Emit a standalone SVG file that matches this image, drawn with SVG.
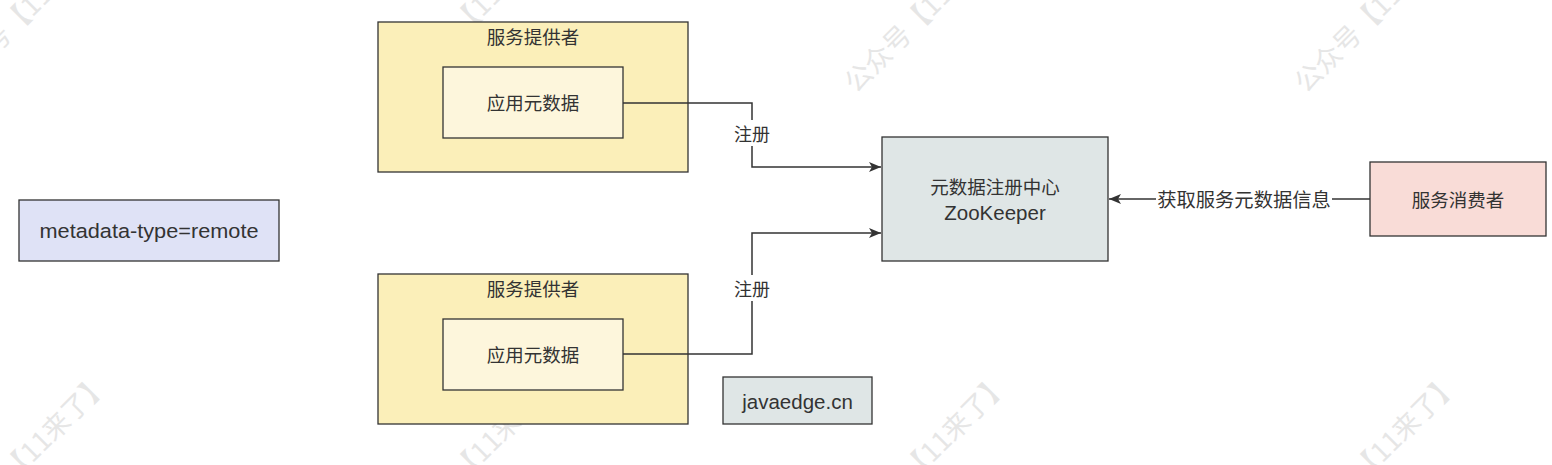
<svg xmlns="http://www.w3.org/2000/svg" width="1552" height="465" viewBox="0 0 1552 465">
<defs>
<style>
.wm{font-family:"Noto Sans CJK SC","Noto Sans",sans-serif;font-size:27px;fill:#e6e6e6;}
.box{stroke:#333;stroke-width:1.3;}
.t{font-family:"Noto Sans CJK SC","Noto Sans",sans-serif;font-size:18.5px;fill:#333;text-anchor:middle;dominant-baseline:central;}
.lt{font-family:"Liberation Sans","Noto Sans",sans-serif;font-size:20.5px;fill:#333;text-anchor:middle;dominant-baseline:central;}
.edge{fill:none;stroke:#333;stroke-width:1.5;}
.lbl{font-family:"Noto Sans CJK SC","Noto Sans",sans-serif;font-size:18px;fill:#333;text-anchor:middle;dominant-baseline:central;}
</style>
<marker id="arr" viewBox="0 0 12 10" refX="12" refY="5" markerWidth="12" markerHeight="10" markerUnits="userSpaceOnUse" orient="auto">
<path d="M0,0 L12,5 L0,10 L3,5 Z" fill="#333"/>
</marker>
</defs>
<rect width="1552" height="465" fill="#ffffff"/>
<g id="watermarks">
<text class="wm" transform="translate(-44,94) rotate(-45)">公众号【11来了】</text>
<text class="wm" transform="translate(406,94) rotate(-45)">公众号【11来了】</text>
<text class="wm" transform="translate(856,94) rotate(-45)">公众号【11来了】</text>
<text class="wm" transform="translate(1306,94) rotate(-45)">公众号【11来了】</text>
<text class="wm" transform="translate(-44,540) rotate(-45)">公众号【11来了】</text>
<text class="wm" transform="translate(406,540) rotate(-45)">公众号【11来了】</text>
<text class="wm" transform="translate(856,540) rotate(-45)">公众号【11来了】</text>
<text class="wm" transform="translate(1306,540) rotate(-45)">公众号【11来了】</text>
</g>
<g id="provider1">
<rect class="box" x="378" y="22" width="310" height="150" fill="#fbefb9"/>
<text class="t" x="533" y="36">服务提供者</text>
</g>
<g id="appmeta1">
<rect class="box" x="443" y="67" width="180" height="71" fill="#fdf6dc"/>
<text class="t" x="533" y="102">应用元数据</text>
</g>
<g id="provider2">
<rect class="box" x="378" y="274" width="310" height="150" fill="#fbefb9"/>
<text class="t" x="533" y="288">服务提供者</text>
</g>
<g id="appmeta2">
<rect class="box" x="443" y="319" width="180" height="71" fill="#fdf6dc"/>
<text class="t" x="533" y="354">应用元数据</text>
</g>
<g id="metadata-type">
<rect class="box" x="19" y="200" width="260" height="61" fill="#dfe2f6"/>
<text class="lt" x="149" y="230" textLength="219" lengthAdjust="spacingAndGlyphs">metadata-type=remote</text>
</g>
<g id="registry">
<rect class="box" x="882" y="137" width="226" height="124" fill="#dfe6e6"/>
<text class="t" x="995" y="186">元数据注册中心</text>
<text class="lt" x="995" y="212">ZooKeeper</text>
</g>
<g id="consumer">
<rect class="box" x="1370" y="162" width="176" height="74" fill="#f9dcd7"/>
<text class="t" x="1458" y="199">服务消费者</text>
</g>
<g id="javaedge">
<rect class="box" x="723" y="377" width="149" height="47" fill="#dfe6e6"/>
<text class="lt" x="797.5" y="401">javaedge.cn</text>
</g>
<g id="connectors">
<path class="edge" d="M623,103 H752 V167 H881" marker-end="url(#arr)"/>
<rect x="733" y="120" width="38" height="26" fill="#ffffff"/>
<text class="lbl" x="752" y="133">注册</text>
<path class="edge" d="M623,354 H752 V233 H881" marker-end="url(#arr)"/>
<rect x="733" y="275" width="38" height="26" fill="#ffffff"/>
<text class="lbl" x="752" y="288">注册</text>
<path class="edge" d="M1370,199 H1109" marker-end="url(#arr)"/>
<rect x="1156" y="186" width="176" height="26" fill="#ffffff"/>
<text class="lbl" x="1244" y="199" style="font-size:19.3px">获取服务元数据信息</text>
</g>
</svg>
